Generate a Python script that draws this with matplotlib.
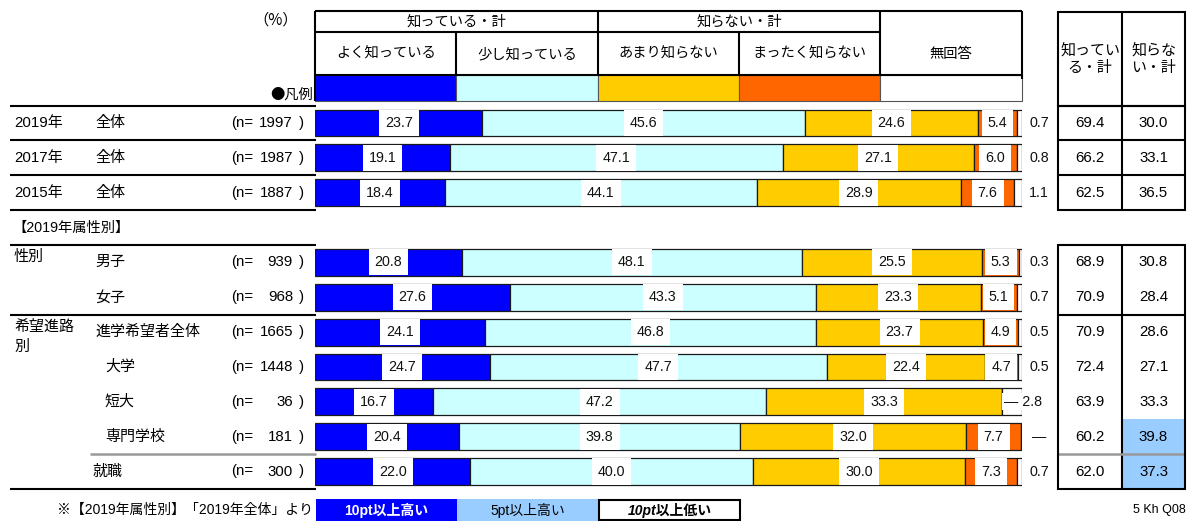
import matplotlib
matplotlib.use("Agg")
import matplotlib.pyplot as plt
from matplotlib.patches import Rectangle

plt.rcParams['font.family'] = ['Liberation Sans', 'Noto Sans CJK JP']

W, H = 1189, 521

# ---- data -------------------------------------------------------------
segment_names = ["よく知っている", "少し知っている", "あまり知らない", "まったく知らない", "無回答"]
segment_colors = ["#0000FF", "#CCFFFF", "#FFCC00", "#FF6600", "#FFFFFF"]

year_labels = ["2019年", "2017年", "2015年"]
row_labels = ["全体", "全体", "全体", "男子", "女子", "進学希望者全体",
              "大学", "短大", "専門学校", "就職"]
row_n = [1997, 1987, 1887, 939, 968, 1665, 1448, 36, 181, 300]

very_well = [23.7, 19.1, 18.4, 20.8, 27.6, 24.1, 24.7, 16.7, 20.4, 22.0]
somewhat = [45.6, 47.1, 44.1, 48.1, 43.3, 46.8, 47.7, 47.2, 39.8, 40.0]
not_much = [24.6, 27.1, 28.9, 25.5, 23.3, 23.7, 22.4, 33.3, 32.0, 30.0]
not_at_all = [5.4, 6.0, 7.6, 5.3, 5.1, 4.9, 4.7, 0.0, 7.7, 7.3]
no_answer = [0.7, 0.8, 1.1, 0.3, 0.7, 0.5, 0.5, 2.8, 0.0, 0.7]

know_total = [69.4, 66.2, 62.5, 68.9, 70.9, 70.9, 72.4, 63.9, 60.2, 62.0]
dont_know_total = [30.0, 33.1, 36.5, 30.8, 28.4, 28.6, 27.1, 33.3, 39.8, 37.3]

# row slots (slot 3 is the gap holding the section title)
slots = [0, 1, 2, 4, 5, 6, 7, 8, 9, 10]

# ---- layout -----------------------------------------------------------
Y0, PITCH = 123.0, 34.85
BAR_L, BAR_R = 315.0, 1021.5
def row_y(k):
    return Y0 + PITCH * k

fig = plt.figure(figsize=(W / 100, H / 100), dpi=100)
ov = fig.add_axes([0, 0, 1, 1])
ov.set_xlim(0, W)
ov.set_ylim(H, 0)
ov.axis("off")

top_px = row_y(-0.5)
bot_px = row_y(10.5)
bx = fig.add_axes([BAR_L / W, 1 - bot_px / H, (BAR_R - BAR_L) / W, (bot_px - top_px) / H])
bx.set_xlim(0, 100)
bx.set_ylim(10.5, -0.5)
bx.axis("off")

LW = 1.5
def hline(y, x0, x1, color="black", lw=LW):
    ov.plot([x0, x1], [y, y], color=color, lw=lw, solid_capstyle="butt")
def vline(x, y0, y1, color="black", lw=LW):
    ov.plot([x, x], [y0, y1], color=color, lw=lw, solid_capstyle="butt")

# ---- stacked bars -----------------------------------------------------
series = [very_well, somewhat, not_much, not_at_all, no_answer]
lefts = [0.0] * len(slots)
for vals, col in zip(series, segment_colors):
    bx.barh(slots, vals, left=lefts, height=0.77, color=col,
            edgecolor="#1a1a1a", linewidth=0.9)
    lefts = [a + b for a, b in zip(lefts, vals)]

label_box = dict(boxstyle="square,pad=0.42", fc="white", ec="none")
for i, k in enumerate(slots):
    cum = 0.0
    for s in range(4):
        v = series[s][i]
        if v > 0:
            bx.text(cum + v / 2, k, f"{v:.1f}", ha="center", va="center",
                    fontsize=10.3, bbox=label_box, color="#111111")
        cum += v
    na = no_answer[i]
    if not_at_all[i] == 0:
        bx.text(cum + 0.3, k, f"— {na:.1f}", ha="left", va="center", fontsize=10.3,
                color="#111111", bbox=dict(boxstyle="square,pad=0.1", fc="white", ec="none"),
                clip_on=False)
    else:
        txt = f"{na:.1f}" if na > 0 else "—"
        bx.text(102.5, k, txt, ha="center", va="center", fontsize=10.3,
                color="#111111", clip_on=False)

# ---- header of the bar area -------------------------------------------
col_w = (BAR_R - BAR_L) / 5
hline(11, BAR_L, BAR_R)
hline(32, BAR_L, BAR_L + 4 * col_w)
hline(75, BAR_L, BAR_R)
vline(BAR_L, 11, 101)
vline(BAR_L + col_w, 32, 75)
vline(BAR_L + 2 * col_w, 11, 75)
vline(BAR_L + 3 * col_w, 32, 75)
vline(BAR_L + 4 * col_w, 11, 75)
vline(BAR_R, 11, 79)
for j, (name, col) in enumerate(zip(segment_names, segment_colors)):
    ov.add_patch(Rectangle((BAR_L + j * col_w, 75), col_w, 26, facecolor=col,
                           edgecolor="#555555", lw=0.8))
    ov.text(BAR_L + (j + 0.5) * col_w, 54, name, ha="center", va="center", fontsize=10.3)
ov.text(BAR_L + col_w, 22, "知っている・計", ha="center", va="center", fontsize=10.3)
ov.text(BAR_L + 3 * col_w, 22, "知らない・計", ha="center", va="center", fontsize=10.3)
ov.text(276, 20, "（%）", ha="center", va="center", fontsize=11,
        family=["Noto Sans CJK JP"])
ov.text(313, 95, "●凡例", ha="right", va="center", fontsize=10.3,
        family=["Noto Sans CJK JP"])

# ---- left labels -------------------------------------------------------
FS_L = 10.8
for i, k in enumerate(slots):
    y = row_y(k)
    if i < 3:
        ov.text(14, y, year_labels[i], ha="left", va="center", fontsize=FS_L)
        xlab = 95
    elif i in (6, 7, 8):
        xlab = 105
    elif i == 9:
        xlab = 93
    else:
        xlab = 95
    ov.text(xlab, y, row_labels[i], ha="left", va="center", fontsize=FS_L)
    ov.text(231, y, "(n=", ha="left", va="center", fontsize=FS_L)
    ov.text(293, y, f"{row_n[i]}", ha="right", va="center", fontsize=FS_L)
    ov.text(299, y, ")", ha="left", va="center", fontsize=FS_L)

ov.text(12, row_y(3), "【2019年属性別】", ha="left", va="center", fontsize=10.3)
ov.text(14, row_y(4) - 5, "性別", ha="left", va="center", fontsize=FS_L)
ov.text(14, row_y(6) - 5, "希望進路", ha="left", va="center", fontsize=FS_L)
ov.text(14, row_y(6) + 15, "別", ha="left", va="center", fontsize=FS_L)

for b in (-0.5, 0.5, 1.5, 2.5, 3.5, 5.5, 10.5):
    hline(row_y(b), 10, 316)
hline(row_y(9.5), 90, 316, color="#999999", lw=1.8)

# ---- totals table -----------------------------------------------------
TX0, TX1, TX2 = 1058, 1122, 1185
blocks = [(-0.5, 2.5), (3.5, 10.5)]
ov.add_patch(Rectangle((TX0, 12), TX2 - TX0, row_y(-0.5) - 12, fill=False, lw=LW))
vline(TX1, 12, row_y(-0.5))
ov.text((TX0 + TX1) / 2, 59, "知ってい\nる・計", ha="center", va="center",
        fontsize=10.8, linespacing=1.3)
ov.text((TX1 + TX2) / 2, 59, "知らな\nい・計", ha="center", va="center",
        fontsize=10.8, linespacing=1.3)

base_know, base_dont = know_total[0], dont_know_total[0]
def cell_style(v, base):
    d = v - base
    if d >= 10:
        return "#0000FF", "white", "bold", "normal"
    if d >= 5:
        return "#99CCFF", "black", "normal", "normal"
    if d <= -10:
        return "white", "black", "bold", "italic"
    return None, "black", "normal", "normal"

for i, k in enumerate(slots):
    y = row_y(k)
    for v, base, x0, x1 in ((know_total[i], base_know, TX0, TX1),
                            (dont_know_total[i], base_dont, TX1, TX2)):
        fc, tc, fw, fs = (None, "black", "normal", "normal")
        if i >= 3:
            fc, tc, fw, fs = cell_style(v, base)
        if fc:
            ov.add_patch(Rectangle((x0, row_y(k - 0.5)), x1 - x0, PITCH,
                                   facecolor=fc, edgecolor="none", zorder=0.5))
        ov.text((x0 + x1) / 2, y, f"{v:.1f}", ha="center", va="center",
                fontsize=10.8, color=tc, fontweight=fw, fontstyle=fs)

for b0, b1 in blocks:
    ov.add_patch(Rectangle((TX0, row_y(b0)), TX2 - TX0, row_y(b1) - row_y(b0),
                           fill=False, lw=LW, zorder=3))
    vline(TX1, row_y(b0), row_y(b1))
for b in (0.5, 1.5, 5.5):
    hline(row_y(b), TX0, TX2)
hline(row_y(9.5), TX0, TX2, color="#999999", lw=1.8)

# ---- footnote ---------------------------------------------------------
ov.text(313, 510, "※【2019年属性別】「2019年全体」より", ha="right", va="center", fontsize=10)
ov.add_patch(Rectangle((316, 499), 141, 22, facecolor="#0000FF", edgecolor="none"))
ov.text(386.5, 510, "10pt以上高い", ha="center", va="center", fontsize=10,
        color="white", fontweight="bold")
ov.add_patch(Rectangle((457, 499), 141, 22, facecolor="#99CCFF", edgecolor="none"))
ov.text(527.5, 510, "5pt以上高い", ha="center", va="center", fontsize=10)
ov.add_patch(Rectangle((599, 500), 141, 20, facecolor="white", edgecolor="black", lw=LW))
ov.text(669.5, 510, "10pt以上低い", ha="center", va="center", fontsize=10,
        fontweight="bold", fontstyle="italic")
ov.text(1186, 510, "5 Kh Q08", ha="right", va="center", fontsize=9)

fig.savefig("out.png", dpi=100)
